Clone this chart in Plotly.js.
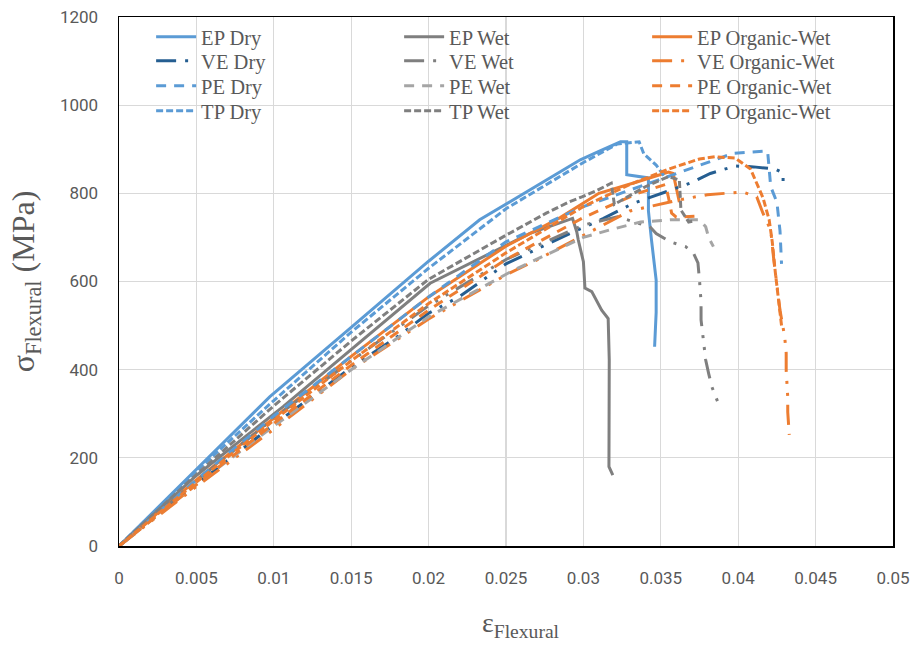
<!DOCTYPE html>
<html>
<head>
<meta charset="utf-8">
<script src="https://cdn.plot.ly/plotly-3.0.1.min.js"></script>
<style>html,body{margin:0;padding:0;background:#fff;}#chart{width:922px;height:647px;}</style>
</head>
<body>
<div id="chart"></div>
<script>
// ---- data (strain, stress in MPa) ----
const epDryX = [0,0.005,0.00975,0.015,0.02,0.0233,0.0265,0.0298,0.031,0.0324,0.0328,0.0328,0.0342,0.0342,0.0344,0.0347,0.0347,0.0346];
const epDryY = [0,175,339,496,646,740,807,876,895,917,917,842,835,760,694,603,530,452];

const epWetX = [0,0.005,0.0106,0.0155,0.0201,0.02655,0.0293,0.02957,0.02967,0.030,0.0301,0.03054,0.03118,0.0316,0.03167,0.03165,0.0319];
const epWetY = [0,160,316,460,596,709,743,713,694,645,585,577,535,516,422,180,161];

const epOWX = [0,0.005,0.01,0.015,0.02,0.025,0.0285,0.031,0.0334,0.0355,0.0358,0.0361,0.0362];
const epOWY = [0,150,290,430,565,680,745,800,825,848,845,800,780];

const veDryX = [0,0.005,0.01,0.015,0.018,0.02,0.022,0.025,0.0287,0.0313,0.0332,0.0356,0.0369,0.0382,0.0398,0.041,0.0424,0.0429,0.0429];
const veDryY = [0,140,275,405,475,528,566,640,702,743,777,808,823,845,862,860,855,846,823];

const veWetX = [0,0.005,0.01,0.015,0.02,0.025,0.03,0.0322,0.0343,0.0347,0.0356,0.0362,0.0366,0.0371,0.0374,0.0375,0.0376,0.0376,0.0377,0.0379,0.0381,0.0383,0.0388];
const veWetY = [0,148,290,420,545,650,728,747,724,709,690,683,679,665,642,603,554,513,479,422,390,361,316];

const veOWX = [0,0.005,0.01,0.015,0.02,0.025,0.027,0.03,0.033,0.0362,0.038,0.0403,0.0412,0.0416,0.0418,0.0421,0.0423,0.0426,0.0427,0.043,0.0431,0.0431,0.0432,0.0432,0.0433];
const veOWY = [0,135,265,400,515,615,649,705,760,785,797,803,792,755,740,717,649,558,535,475,438,399,338,304,252];

const peDryX = [0,0.005,0.01,0.015,0.02,0.025,0.03,0.0345,0.037,0.0397,0.0419,0.042,0.0421,0.0425,0.0427,0.0428];
const peDryY = [0,150,295,430,565,690,770,826,858,891,896,860,815,780,715,640];

const peWetX = [0,0.005,0.01,0.015,0.02,0.0255,0.03,0.0317,0.0337,0.0356,0.0375,0.0379,0.0381,0.0384];
const peWetY = [0,140,272,400,520,626,700,717,735,740,740,724,699,679];

const peOWX = [0,0.005,0.01,0.015,0.02,0.025,0.03,0.0335,0.0353,0.0355,0.0357,0.036,0.0372];
const peOWY = [0,140,278,410,535,650,745,800,820,790,755,746,748];

const tpDryX = [0,0.005,0.01,0.015,0.02,0.025,0.03,0.0322,0.0336,0.0339,0.0347,0.0352];
const tpDryY = [0,170,330,485,630,765,870,912,917,890,864,840];

const tpWetX = [0,0.005,0.01,0.015,0.02,0.025,0.0276,0.0291,0.0299,0.0309,0.0318,0.032,0.0325,0.034,0.0355,0.0362,0.0363,0.0368,0.0372];
const tpWetY = [0,162,318,465,605,705,755,781,792,807,823,775,785,815,838,830,762,735,738];

const tpOWX = [0,0.005,0.01,0.015,0.02,0.025,0.03,0.033,0.0355,0.0375,0.0385,0.0398,0.0408,0.0413,0.0416,0.042,0.0422,0.0424,0.0426,0.0428];
const tpOWY = [0,145,285,420,550,665,770,820,855,878,883,880,855,815,790,740,690,620,560,500];

const names = ['EP Dry','EP Wet','EP Organic-Wet','VE Dry','VE Wet','VE Organic-Wet','PE Dry','PE Wet','PE Organic-Wet','TP Dry','TP Wet','TP Organic-Wet'];
const xTicks = [0,0.005,0.01,0.015,0.02,0.025,0.03,0.035,0.04,0.045,0.05];
const xTickText = ['0','0.005','0.01','0.015','0.02','0.025','0.03','0.035','0.04','0.045','0.05'];
const xTitle = 'ε<sub>Flexural</sub>';
const yTitle = 'σ<sub>Flexural</sub> (MPa)';

// ---- styles ----
const LB = '#5B9BD5', DB = '#255E91', GR = '#7F7F7F', LG = '#A5A5A5', OR = '#ED7D31';
const DASHDOT = '20px,9px,3px,9px,3px,9px';
const LONG = '10px,8px';
const SHORT = '7px,3px';
const W = 3;

function tr(x, y, name, color, dash, leg) {
  return {x: x, y: y, name: name, type: 'scatter', mode: 'lines', legend: leg,
          line: {color: color, width: W, dash: dash}};
}

const data = [
  tr(epDryX, epDryY, names[0], LB, 'solid', 'legend'),
  tr(epWetX, epWetY, names[1], GR, 'solid', 'legend'),
  tr(epOWX, epOWY, names[2], OR, 'solid', 'legend'),
  tr(veDryX, veDryY, names[3], DB, DASHDOT, 'legend2'),
  tr(veWetX, veWetY, names[4], GR, DASHDOT, 'legend2'),
  tr(veOWX, veOWY, names[5], OR, DASHDOT, 'legend2'),
  tr(peDryX, peDryY, names[6], LB, LONG, 'legend3'),
  tr(peWetX, peWetY, names[7], LG, LONG, 'legend3'),
  tr(peOWX, peOWY, names[8], OR, LONG, 'legend3'),
  tr(tpDryX, tpDryY, names[9], LB, SHORT, 'legend4'),
  tr(tpWetX, tpWetY, names[10], GR, SHORT, 'legend4'),
  tr(tpOWX, tpOWY, names[11], OR, SHORT, 'legend4')
];

const tickFont = {family: 'Roboto, sans-serif', size: 17, color: '#595959'};
const serif = 'Liberation Serif, Times New Roman, serif';

function leg(yc) {
  return {
    orientation: 'h', x: 0.0415, y: yc, xanchor: 'left', yanchor: 'middle',
    entrywidth: 193, entrywidthmode: 'pixels',
    bgcolor: 'rgba(0,0,0,0)', traceorder: 'normal',
    font: {family: serif, size: 20.5, color: '#595959'},
    itemwidth: 40
  };
}

const layout = {
  width: 922, height: 647,
  margin: {l: 119, r: 29, t: 17, b: 101},
  paper_bgcolor: '#fff', plot_bgcolor: '#fff',
  showlegend: true,
  legend: leg(0.9622),
  legend2: leg(0.9168),
  legend3: leg(0.8696),
  legend4: leg(0.8223),
  xaxis: {
    range: [0, 0.05], tickvals: xTicks, ticktext: xTickText,
    showgrid: true, gridcolor: '#D9D9D9', gridwidth: 1.3,
    showline: true, linecolor: '#000', linewidth: 1.5, mirror: true,
    zeroline: false, ticks: '', tickfont: tickFont, ticklabelstandoff: 16
  },
  yaxis: {
    range: [0, 1200], dtick: 200,
    showgrid: true, gridcolor: '#D9D9D9', gridwidth: 1.3,
    showline: true, linecolor: '#000', linewidth: 1.5, mirror: true,
    zeroline: false, ticks: '', tickfont: tickFont, ticklabelstandoff: 16,
    title: {text: yTitle, font: {family: serif, size: 32, color: '#595959'}, standoff: 15}
  },
  annotations: [{
    text: xTitle, xref: 'paper', yref: 'paper', x: 0.52, y: -0.185,
    xanchor: 'center', yanchor: 'bottom', showarrow: false,
    font: {family: serif, size: 28, color: '#595959'}
  }]
};

Plotly.newPlot('chart', data, layout, {displayModeBar: false, staticPlot: true});
</script>
</body>
</html>
